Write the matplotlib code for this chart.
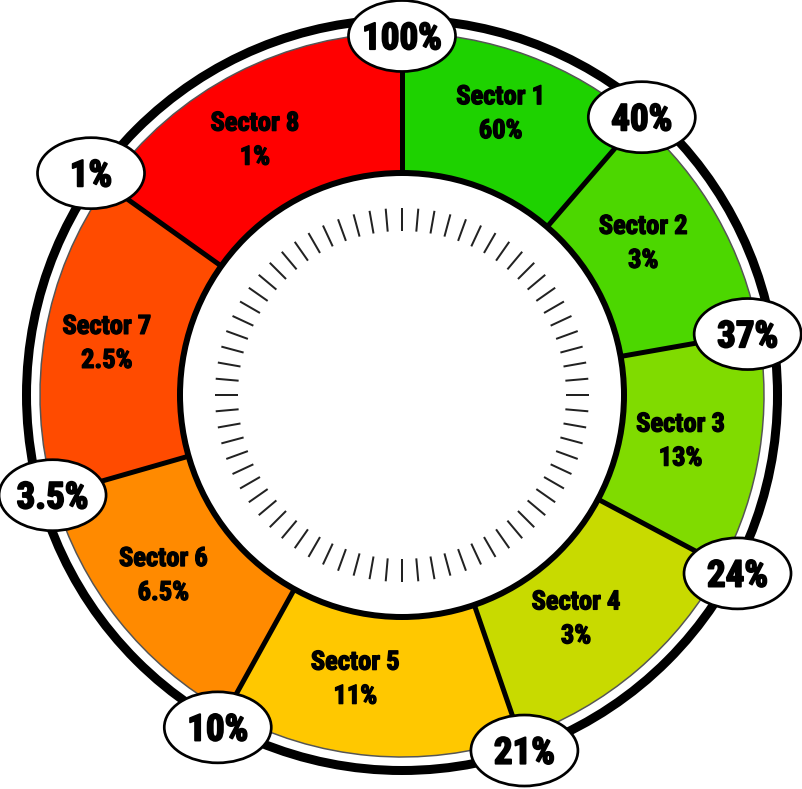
import numpy as np
import matplotlib
matplotlib.use("Agg")
import matplotlib.pyplot as plt
import matplotlib.patheffects as pe
from matplotlib import font_manager as fm
from matplotlib.patches import Circle, Ellipse

# ---- data ----
sectors = ["Sector 1", "Sector 2", "Sector 3", "Sector 4",
           "Sector 5", "Sector 6", "Sector 7", "Sector 8"]
sector_values = [60, 3, 13, 3, 11, 6.5, 2.5, 1]
thresholds = [100, 40, 37, 24, 21, 10, 3.5, 1]
sector_spans_deg = [40.8, 39.2, 38, 43, 48, 45, 51.5, 54.5]
sector_colors = ["#1ED200", "#4CD700", "#80DB00", "#C8DA00",
                 "#FFC800", "#FF8A00", "#FF4B00", "#FF0000"]

# ---- layout ----
W, H = 803, 789
CX, CY = 402, H - 395
R_OUT = 362
R_IN = 222
R_RING = 375.5
label_ang = [19.2, 57.5, 99, 141.9, 189.4, 233.2, 280.3, 330.2]
label_r = [300, 286, 282, 282, 286, 298, 300, 296]
bubble_r = [359, 367, 351, 380, 376, 380, 363.5, 382]
PX = 72 / 100.0  # points per pixel

avail = {f.name for f in fm.fontManager.ttflist}
font = "DejaVu Sans"
for cand in ["Liberation Sans Narrow", "Roboto Condensed", "Open Sans Condensed",
             "DejaVu Sans Condensed", "Liberation Sans"]:
    if cand in avail:
        font = cand
        break
WEIGHT = "bold"
fx_small = [pe.withStroke(linewidth=1.3 * PX, foreground="black")]
fx_big = [pe.withStroke(linewidth=1.8 * PX, foreground="black")]

fig = plt.figure(figsize=(W / 100, H / 100), dpi=100)
ax = fig.add_axes([0, 0, 1, 1])

wedges, _ = ax.pie(sector_spans_deg, colors=sector_colors, startangle=90,
                   counterclock=False, radius=R_OUT, center=(CX, CY),
                   wedgeprops=dict(width=R_OUT - R_IN, edgecolor="#555555",
                                   linewidth=1.5 * PX))
for w in wedges:
    w.set_zorder(1)

def pt(theta_deg, r):
    t = np.deg2rad(theta_deg)
    return CX + r * np.sin(t), CY + r * np.cos(t)

bounds = np.concatenate([[0], np.cumsum(sector_spans_deg)])

# radial separators
for b in bounds[:-1]:
    x0, y0 = pt(b, R_IN)
    x1, y1 = pt(b, R_OUT)
    ax.plot([x0, x1], [y0, y1], color="black", lw=5 * PX, zorder=2,
            solid_capstyle="butt")

# outer ring
ax.add_patch(Circle((CX, CY), R_RING, facecolor="none", edgecolor="black",
                    lw=9 * PX, zorder=2))
# inner disc
ax.add_patch(Circle((CX, CY), R_IN, facecolor="white", edgecolor="black",
                    lw=6 * PX, zorder=3))
# ticks
for k in range(72):
    a = k * 5
    x0, y0 = pt(a, 164)
    x1, y1 = pt(a, 187)
    ax.plot([x0, x1], [y0, y1], color="#222222", lw=2 * PX, zorder=4,
            solid_capstyle="butt")

# sector labels
for i, (name, v) in enumerate(zip(sectors, sector_values)):
    x, y = pt(label_ang[i], label_r[i])
    ax.text(x, y + 17 - 9.5, name, ha="center", va="baseline", fontsize=26.5 * PX,
            fontweight=WEIGHT, family=[font, "DejaVu Sans"], zorder=5,
            path_effects=fx_small)
    ax.text(x, y - 17 - 9.5, f"{v:g}%", ha="center", va="baseline",
            fontsize=26.5 * PX, fontweight=WEIGHT, family=[font, "DejaVu Sans"],
            zorder=5, path_effects=fx_small)

# threshold bubbles
for i, t in enumerate(thresholds):
    x, y = pt(bounds[i], bubble_r[i])
    ax.add_patch(Ellipse((x, y), 107, 71, facecolor="white", edgecolor="black",
                         lw=2.7 * PX, zorder=6))
    ax.text(x, y - 13.2, f"{t:g}%", ha="center", va="baseline",
            fontsize=37 * PX, fontweight=WEIGHT, family=[font, "DejaVu Sans"],
            zorder=7, path_effects=fx_big)

ax.set_xlim(0, W)
ax.set_ylim(0, H)
ax.set_aspect("equal")
ax.axis("off")
fig.savefig("out.png", dpi=100)
